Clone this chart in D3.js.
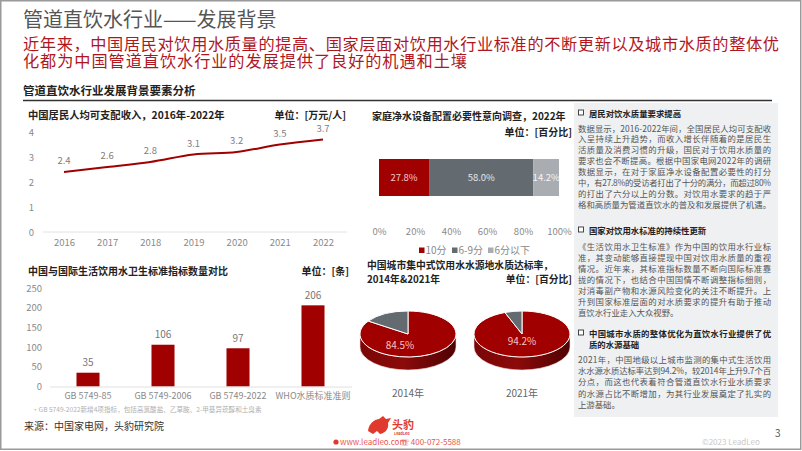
<!DOCTYPE html>
<html><head><meta charset="utf-8">
<script src="https://cdn.jsdelivr.net/npm/d3@7"></script>
<style>
html,body{margin:0;padding:0;background:#fff;}
svg{display:block;font-family:"Noto Sans CJK SC","Noto Sans",sans-serif;}
</style></head><body>
<svg id="c" width="802" height="451"></svg>
<script>
// ---------- data ----------
const incomeYears = ["2016","2017","2018","2019","2020","2021","2022"];
const incomeValues = [2.4, 2.6, 2.8, 3.1, 3.2, 3.5, 3.7];
const incomeTicks = [0,1,2,3,4];

const surveyLabels = ["10分","6-9分","6分以下"];
const surveyValues = [27.8, 58.0, 14.2];
const surveyTicks = [0,20,40,60,80,100];

const stdCategories = ["GB 5749-85","GB 5749-2006","GB 5749-2022","WHO水质标准准则"];
const stdValues = [35, 106, 97, 206];
const stdTicks = [0,50,100,150,200,250];

const pieYears = ["2014年","2021年"];
const pieRates = [84.5, 94.2];

const RED = "#a00000", DGRAY = "#636a70", LGRAY = "#a9acb0";
const svg = d3.select("#c");
const F = "\"Noto Sans CJK SC\",\"Noto Sans\",sans-serif";

function txt(g, x, y, s, o) {
  o = o || {};
  const t = g.append("text").attr("x", x).attr("y", y).text(s)
    .attr("font-size", o.size || 10).attr("fill", o.fill || "#333")
    .attr("font-weight", o.weight || "normal")
    .attr("text-anchor", o.anchor || "start");
  if (o.len) t.attr("textLength", o.len).attr("lengthAdjust", "spacing");
  return t;
}

// frame
svg.append("rect").attr("x",0.75).attr("y",0.75).attr("width",800).attr("height",448.5)
  .attr("fill","none").attr("stroke","#9a9a9a").attr("stroke-width",1.5);

// header
txt(svg, 23, 27, "管道直饮水行业——发展背景", {size:20, fill:"#555"});
txt(svg, 23, 49.5, "近年来，中国居民对饮用水质量的提高、国家层面对饮用水行业标准的不断更新以及城市水质的整体优", {size:16.2, fill:"#b0161e", len:756});
txt(svg, 23, 67, "化都为中国管道直饮水行业的发展提供了良好的机遇和土壤", {size:16.2, fill:"#b0161e", len:444});
txt(svg, 23, 95, "管道直饮水行业发展背景要素分析", {size:11.5, weight:"bold", fill:"#222"});
svg.append("line").attr("x1",23).attr("x2",772).attr("y1",100.5).attr("y2",100.5)
  .attr("stroke","#333").attr("stroke-width",1.3);

// ---------- chart 1: income line ----------
{
  const g = svg.append("g");
  txt(g, 28, 119, "中国居民人均可支配收入，2016年-2022年", {size:10.3, weight:"bold", fill:"#222"});
  txt(g, 346, 119, "单位：[万元/人]", {size:10, weight:"bold", fill:"#222", anchor:"end"});
  const x = d3.scalePoint().domain(incomeYears).range([64, 323]);
  const y = d3.scaleLinear().domain([0,4]).range([232,132]);
  g.append("line").attr("x1",43).attr("x2",347).attr("y1",y(0)).attr("y2",y(0)).attr("stroke","#e2e2e2");
  const ya = g.append("g").attr("transform","translate(35,0)")
    .call(d3.axisLeft(y).tickValues(incomeTicks).tickSize(0).tickFormat(d3.format("d")));
  ya.select(".domain").remove();
  ya.selectAll("text").attr("font-size",9.5).attr("fill","#8a8a8a").attr("font-family",F).attr("dx",2);
  const xa = g.append("g").attr("transform","translate(0,"+(y(0)+4)+")")
    .call(d3.axisBottom(x).tickSize(0));
  xa.select(".domain").remove();
  xa.selectAll("text").attr("font-size",9.5).attr("fill","#8a8a8a").attr("font-family",F);
  g.append("path").datum(incomeValues.map((v,i)=>[incomeYears[i],v]))
    .attr("d", d3.line().x(d=>x(d[0])).y(d=>y(d[1])).curve(d3.curveMonotoneX))
    .attr("fill","none").attr("stroke",RED).attr("stroke-width",2);
  incomeValues.forEach((v,i)=>{
    txt(g, x(incomeYears[i]), y(v)-8, d3.format(".1f")(v), {size:9.5, fill:"#808080", anchor:"middle"});
  });
}

// ---------- chart 2: stacked bar ----------
{
  const g = svg.append("g");
  txt(g, 372, 120, "家庭净水设备配置必要性意向调查，2022年", {size:10, weight:"bold", fill:"#222"});
  txt(g, 572, 136, "单位：[百分比]", {size:10, weight:"bold", fill:"#222", anchor:"end"});
  const x = d3.scaleLinear().domain([0,100]).range([379,559]);
  const colors = [RED, DGRAY, LGRAY];
  const lblFill = ["#f3c9c9", "#e4e6e8", "#f4f4f4"];
  let acc = 0;
  surveyValues.forEach((v,i)=>{
    g.append("rect").attr("x", x(acc)).attr("y",159).attr("width", x(acc+v)-x(acc)).attr("height",37)
      .attr("fill", colors[i]);
    txt(g, (x(acc)+x(acc+v))/2, 181, d3.format(".1f")(v)+"%", {size:9.5, fill: lblFill[i], anchor:"middle"});
    acc += v;
  });
  const xa = g.append("g").attr("transform","translate(0,225)")
    .call(d3.axisBottom(x).tickValues(surveyTicks).tickSize(0).tickFormat(d=>d+"%"));
  xa.select(".domain").remove();
  xa.selectAll("text").attr("font-size",9.5).attr("fill","#8a8a8a").attr("font-family",F);
  const lx = [419, 452, 488];
  surveyLabels.forEach((l,i)=>{
    g.append("rect").attr("x",lx[i]).attr("y",247.5).attr("width",5.5).attr("height",5.5).attr("fill",colors[i]);
    txt(g, lx[i]+6.5, 254, l, {size:10, fill:"#888"});
  });
}

// ---------- chart 3: bars ----------
{
  const g = svg.append("g");
  txt(g, 28, 275, "中国与国际生活饮用水卫生标准指标数量对比", {size:10, weight:"bold", fill:"#222"});
  txt(g, 349, 275, "单位：[条]", {size:10, weight:"bold", fill:"#222", anchor:"end"});
  const x = d3.scaleBand().domain(stdCategories).range([50.5,350.5]).paddingInner(0.693).paddingOuter(0.3465);
  const y = d3.scaleLinear().domain([0,250]).range([386.5,288]);
  const ya = g.append("g").attr("transform","translate(45,0)")
    .call(d3.axisLeft(y).tickValues(stdTicks).tickSize(0));
  ya.select(".domain").remove();
  ya.selectAll("text").attr("font-size",9.5).attr("fill","#8a8a8a").attr("font-family",F);
  g.selectAll("rect.b").data(stdValues).join("rect").attr("class","b")
    .attr("x",(d,i)=>x(stdCategories[i])).attr("width",x.bandwidth())
    .attr("y",d=>y(d)).attr("height",d=>y(0)-y(d)).attr("fill",RED);
  g.append("line").attr("x1",50).attr("x2",352).attr("y1",y(0)+0.5).attr("y2",y(0)+0.5).attr("stroke","#e0e0e0");
  stdValues.forEach((v,i)=>{
    txt(g, x(stdCategories[i])+x.bandwidth()/2, y(v)-6.5, String(v), {size:10, fill:"#777", anchor:"middle"});
  });
  const xa = g.append("g").attr("transform","translate(0,"+(y(0)+3)+")")
    .call(d3.axisBottom(x).tickSize(0));
  xa.select(".domain").remove();
  xa.selectAll("text").attr("font-size",9).attr("fill","#8a8a8a").attr("font-family",F);
  txt(g, 32, 412, "•GB 5749-2022新增4项指标，包括高氯酸盐、乙草胺、2-甲基异莰醇和土臭素", {size:6.6, fill:"#b0b0b0"});
  txt(g, 24, 430, "来源：中国家电网，头豹研究院", {size:10, fill:"#333"});
}

// ---------- chart 4: 3D pies ----------
{
  const g = svg.append("g");
  txt(g, 367, 269, "中国城市集中式饮用水水源地水质达标率，", {size:9.8, weight:"bold", fill:"#222"});
  txt(g, 367, 283, "2014年&2021年", {size:9.8, weight:"bold", fill:"#222"});
  txt(g, 572, 283, "单位：[百分比]", {size:9.8, weight:"bold", fill:"#222", anchor:"end"});
  const defs = svg.append("defs");
  const gr = defs.append("linearGradient").attr("id","side").attr("x1","0").attr("x2","1").attr("y1","0").attr("y2","0");
  gr.append("stop").attr("offset","0").attr("stop-color","#7a0606");
  gr.append("stop").attr("offset","0.45").attr("stop-color","#8c0a0a");
  gr.append("stop").attr("offset","1").attr("stop-color","#4e0202");
  const cxs = [408, 522], cy = 334, rx = 48, ry = 23, dep = 13;
  const pie = d3.pie().sort(null).value(d=>d);
  const arc = d3.arc().innerRadius(0).outerRadius(rx);
  pieRates.forEach((r,k)=>{
    const cx = cxs[k];
    g.append("path").attr("d",
      `M${cx-rx},${cy} A${rx},${ry} 0 0 0 ${cx+rx},${cy} L${cx+rx},${cy+dep} A${rx},${ry} 0 0 1 ${cx-rx},${cy+dep} Z`)
      .attr("fill","url(#side)").attr("stroke","#f3dede").attr("stroke-width",0.6);
    const tg = g.append("g").attr("transform",`translate(${cx},${cy}) scale(1,${ry/rx})`);
    tg.selectAll("path").data(pie([r, 100-r])).join("path")
      .attr("d", arc).attr("fill",(d,i)=> i==0 ? RED : DGRAY)
      .attr("stroke","#fff").attr("stroke-width",1).attr("vector-effect","non-scaling-stroke");
    txt(g, cx-(k==0?8:0), cy+(k==0?14.5:10.5), d3.format(".1f")(r)+"%", {size:10, fill:"#f3c4c4", anchor:"middle"});
    txt(g, cx, 397, pieYears[k], {size:10, fill:"#666", anchor:"middle"});
  });
}

// ---------- right text panel ----------
{
  const g = svg.append("g");
  g.append("rect").attr("x",574).attr("y",103).attr("width",204).attr("height",314).attr("fill","#eef0f2");
  const W = 193, X = 578, FS = 8.4;
  function header(y, s, len) {
    g.append("rect").attr("x",X+0.5).attr("y",y-6.5).attr("width",5).attr("height",5)
      .attr("fill","#fff").attr("stroke","#333").attr("stroke-width",0.9);
    txt(g, X+11, y, s, {size:FS, weight:"bold", fill:"#222", len: len});
  }
  function para(y0, dy, lines) {
    lines.forEach((l,i)=>{
      const o = {size:FS, fill:"#555"};
      if (i < lines.length-1 || l.length >= 22) o.len = W;
      txt(g, X, y0 + i*dy, l, o);
    });
  }
  header(116.5, "居民对饮水质量要求提高");
  para(131.5, 10.95, [
    "数据显示，2016-2022年间，全国居民人均可支配收",
    "入呈持续上升趋势，而收入增长伴随着的是居民生",
    "活质量及消费习惯的升级，国民对于饮用水质量的",
    "要求也会不断提高。根据中国家电网2022年的调研",
    "数据显示，在对于家庭净水设备配置必要性的打分",
    "中，有27.8%的受访者打出了十分的满分，而超过80%",
    "的打出了六分以上的分数。对饮用水要求的趋于严",
    "格和高质量为管道直饮水的普及和发展提供了机遇。"
  ]);
  header(233.5, "国家对饮用水标准的持续性更新");
  para(250, 10.95, [
    "《生活饮用水卫生标准》作为中国的饮用水行业标",
    "准，其变动能够直接提现中国对饮用水质量的重视",
    "情况。近年来，其标准指标数量不断向国际标准靠",
    "拢的情况下，也结合中国国情不断调整指标细则，",
    "对消毒副产物和水源风险变化的关注不断提升。上",
    "升到国家标准层面的对水质要求的提升有助于推动",
    "直饮水行业走入大众视野。"
  ]);
  header(336.5, "中国城市水质的整体优化为直饮水行业提供了优", W-11);
  txt(g, X+11, 347.5, "质的水源基础", {size:FS, weight:"bold", fill:"#222"});
  para(362.5, 11.4, [
    "2021年，中国地级以上城市监测的集中式生活饮用",
    "水水源水质达标率达到94.2%，较2014年上升9.7个百",
    "分点，而这也代表着符合管道直饮水行业水质要求",
    "的水源占比不断增加，为其行业发展奠定了扎实的",
    "上游基础。"
  ]);
}

// ---------- footer ----------
{
  const g = svg.append("g");
  g.append("path").attr("d","M368,431 C369,424 373,420 379,419 L383,416 L386,419 L391,418 L388,423 C389,428 386,433 380,434 L377,431 L373,434 Z")
    .attr("fill","#e03a2f");
  txt(g, 392, 429, "头豹", {size:11, weight:"bold", fill:"#e03a2f"});
  txt(g, 394, 435, "LeadLeo", {size:3.8, weight:"bold", fill:"#e03a2f"});
  g.append("circle").attr("cx",336).attr("cy",442).attr("r",2.6).attr("fill","#e03a2f");
  txt(g, 340, 445, "www.leadleo.com", {size:8, fill:"#e8564f"});
  txt(g, 401, 445, "☏ 400-072-5588", {size:8, fill:"#e8564f"});
  txt(g, 702, 445, "©2023 LeadLeo", {size:8, fill:"#c8c8c8"});
  txt(g, 775, 437, "3", {size:10, fill:"#555"});
}
</script>
</body></html>
